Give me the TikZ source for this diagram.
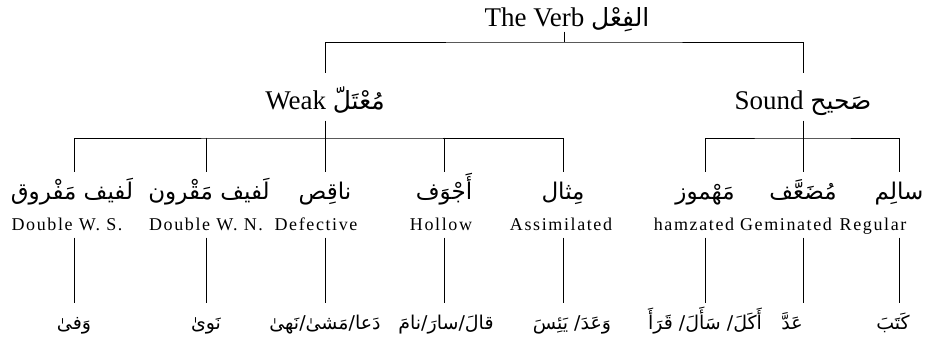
\documentclass[tikz,border=0pt]{standalone}
\usepackage{fontspec}
\setmainfont{Liberation Serif}
\newfontfamily\arfont[Script=Arabic]{DejaVu Sans}
\newfontfamily\trackedfont[LetterSpace=9]{Liberation Serif}
\TeXXeTstate=1
% Arabic run inside a left-to-right line
\newcommand\AR[2][]{{\arfont#1\beginR #2\endR}}

\begin{document}
\begin{tikzpicture}[x=1pt,y=1pt,
  every node/.style={inner sep=0pt, outer sep=0pt, anchor=base},
  lvltitle/.style={font=\fontsize{27}{30}\selectfont, text height=20pt, text depth=5pt},
  lvlclass/.style={font=\fontsize{27}{30}\selectfont, text height=37pt, text depth=11pt},
  lvltype/.style={font=\fontsize{23}{27}\selectfont, text height=28pt, text depth=8pt},
  lvlgloss/.style={font=\trackedfont\fontsize{18}{20}\selectfont, text height=13pt, text depth=7pt},
  lvlexample/.style={font=\fontsize{19}{23}\selectfont, text height=27pt, text depth=8pt},
  branch/.style={line width=0.9pt, line cap=rect}
]
\useasboundingbox (0,0) rectangle (938,350);

% root
\node[lvltitle] (verb) at (567,323) {The Verb \AR[\fontsize{25}{28}\selectfont]{الفِعْل}};

% two classes
\node[lvlclass] (weak)  at (325,240) {Weak \AR[\fontsize{25}{28}\selectfont]{مُعْتَلّ}};
\node[lvlclass] (sound) at (803,240) {Sound \AR[\fontsize{25}{28}\selectfont]{صَحيح}};

% types (Arabic name)
\node[lvltype] (ds)  at (72,150)  {\AR{لَفيف مَفْروق}};
\node[lvltype] (dn)  at (209,150) {\AR{لَفيف مَقْرون}};
\node[lvltype] (def) at (325,150) {\AR{ناقِص}};
\node[lvltype] (hol) at (444,150) {\AR{أَجْوَف}};
\node[lvltype] (ass) at (563,150) {\AR{مِثال}};
\node[lvltype] (ham) at (705,150) {\AR{مَهْموز}};
\node[lvltype] (gem) at (803,150) {\AR{مُضَعَّف}};
\node[lvltype] (reg) at (899,150) {\AR{سالِم}};

% types (English gloss)
\node[lvlgloss] (ds-en)  at (67,119)  {Double W. S.};
\node[lvlgloss] (dn-en)  at (206,119) {Double W. N.};
\node[lvlgloss] (def-en) at (316,119) {Defective};
\node[lvlgloss] (hol-en) at (441,119) {Hollow};
\node[lvlgloss] (ass-en) at (561,119) {Assimilated};
\node[lvlgloss] (ham-en) at (694,119) {hamzated};
\node[lvlgloss] (gem-en) at (786,119) {Geminated};
\node[lvlgloss] (reg-en) at (873,119) {Regular};

% examples
\node[lvlexample] (ds-ex)  at (74,20)  {\AR{وَفىٰ}};
\node[lvlexample] (dn-ex)  at (206,20) {\AR{نَوىٰ}};
\node[lvlexample] (def-ex) at (325,20) {\AR{دَعا/مَشىٰ/نَهىٰ}};
\node[lvlexample] (hol-ex) at (446,20) {\AR{قالَ/سارَ/نامَ}};
\node[lvlexample] (ass-ex) at (572,20) {\AR{وَعَدَ/ يَئِسَ}};
\node[lvlexample] (ham-ex) at (705,20) {\AR{أَكَلَ/ سَأَلَ/ قَرَأَ}};
\node[lvlexample] (gem-ex) at (792,20) {\AR{عَدَّ}};
\node[lvlexample] (reg-ex) at (893,20) {\AR{كَتَبَ}};

% junction points of the bracket lines
\coordinate (verb-j)  at (564,308);
\coordinate (weak-j)  at (325,212);
\coordinate (sound-j) at (803,212);
% stem positions under the two lafif types
\coordinate (ds-x) at (74,0);
\coordinate (dn-x) at (206,0);

% root bracket
\draw[branch] (verb-j |- verb.south) -- (verb-j);
\draw[branch] (weak.north) |- (verb-j) -| (sound.north);

% weak bracket
\draw[branch] (weak.south) -- (weak-j);
\draw[branch] (ds.north -| ds-x) |- (weak-j) -| (ass.north);
\draw[branch] (dn.north -| dn-x) -- (dn-x |- weak-j);
\draw[branch] (hol.north) -- (hol.north |- weak-j);
\draw[branch] (def.north) -- (weak-j);

% sound bracket
\draw[branch] (sound.south) -- (sound-j);
\draw[branch] (ham.north) |- (sound-j) -| (reg.north);
\draw[branch] (gem.north) -- (sound-j);

% example stems, hanging below each type
\foreach \t/\s in {ds/ds-x,dn/dn-x,def/def,hol/hol,ass/ass,ham/ham,gem/gem,reg/reg}
  \draw[branch] (\t-en.south -| \s) -- (\t-ex.north -| \s);
\end{tikzpicture}
\end{document}
